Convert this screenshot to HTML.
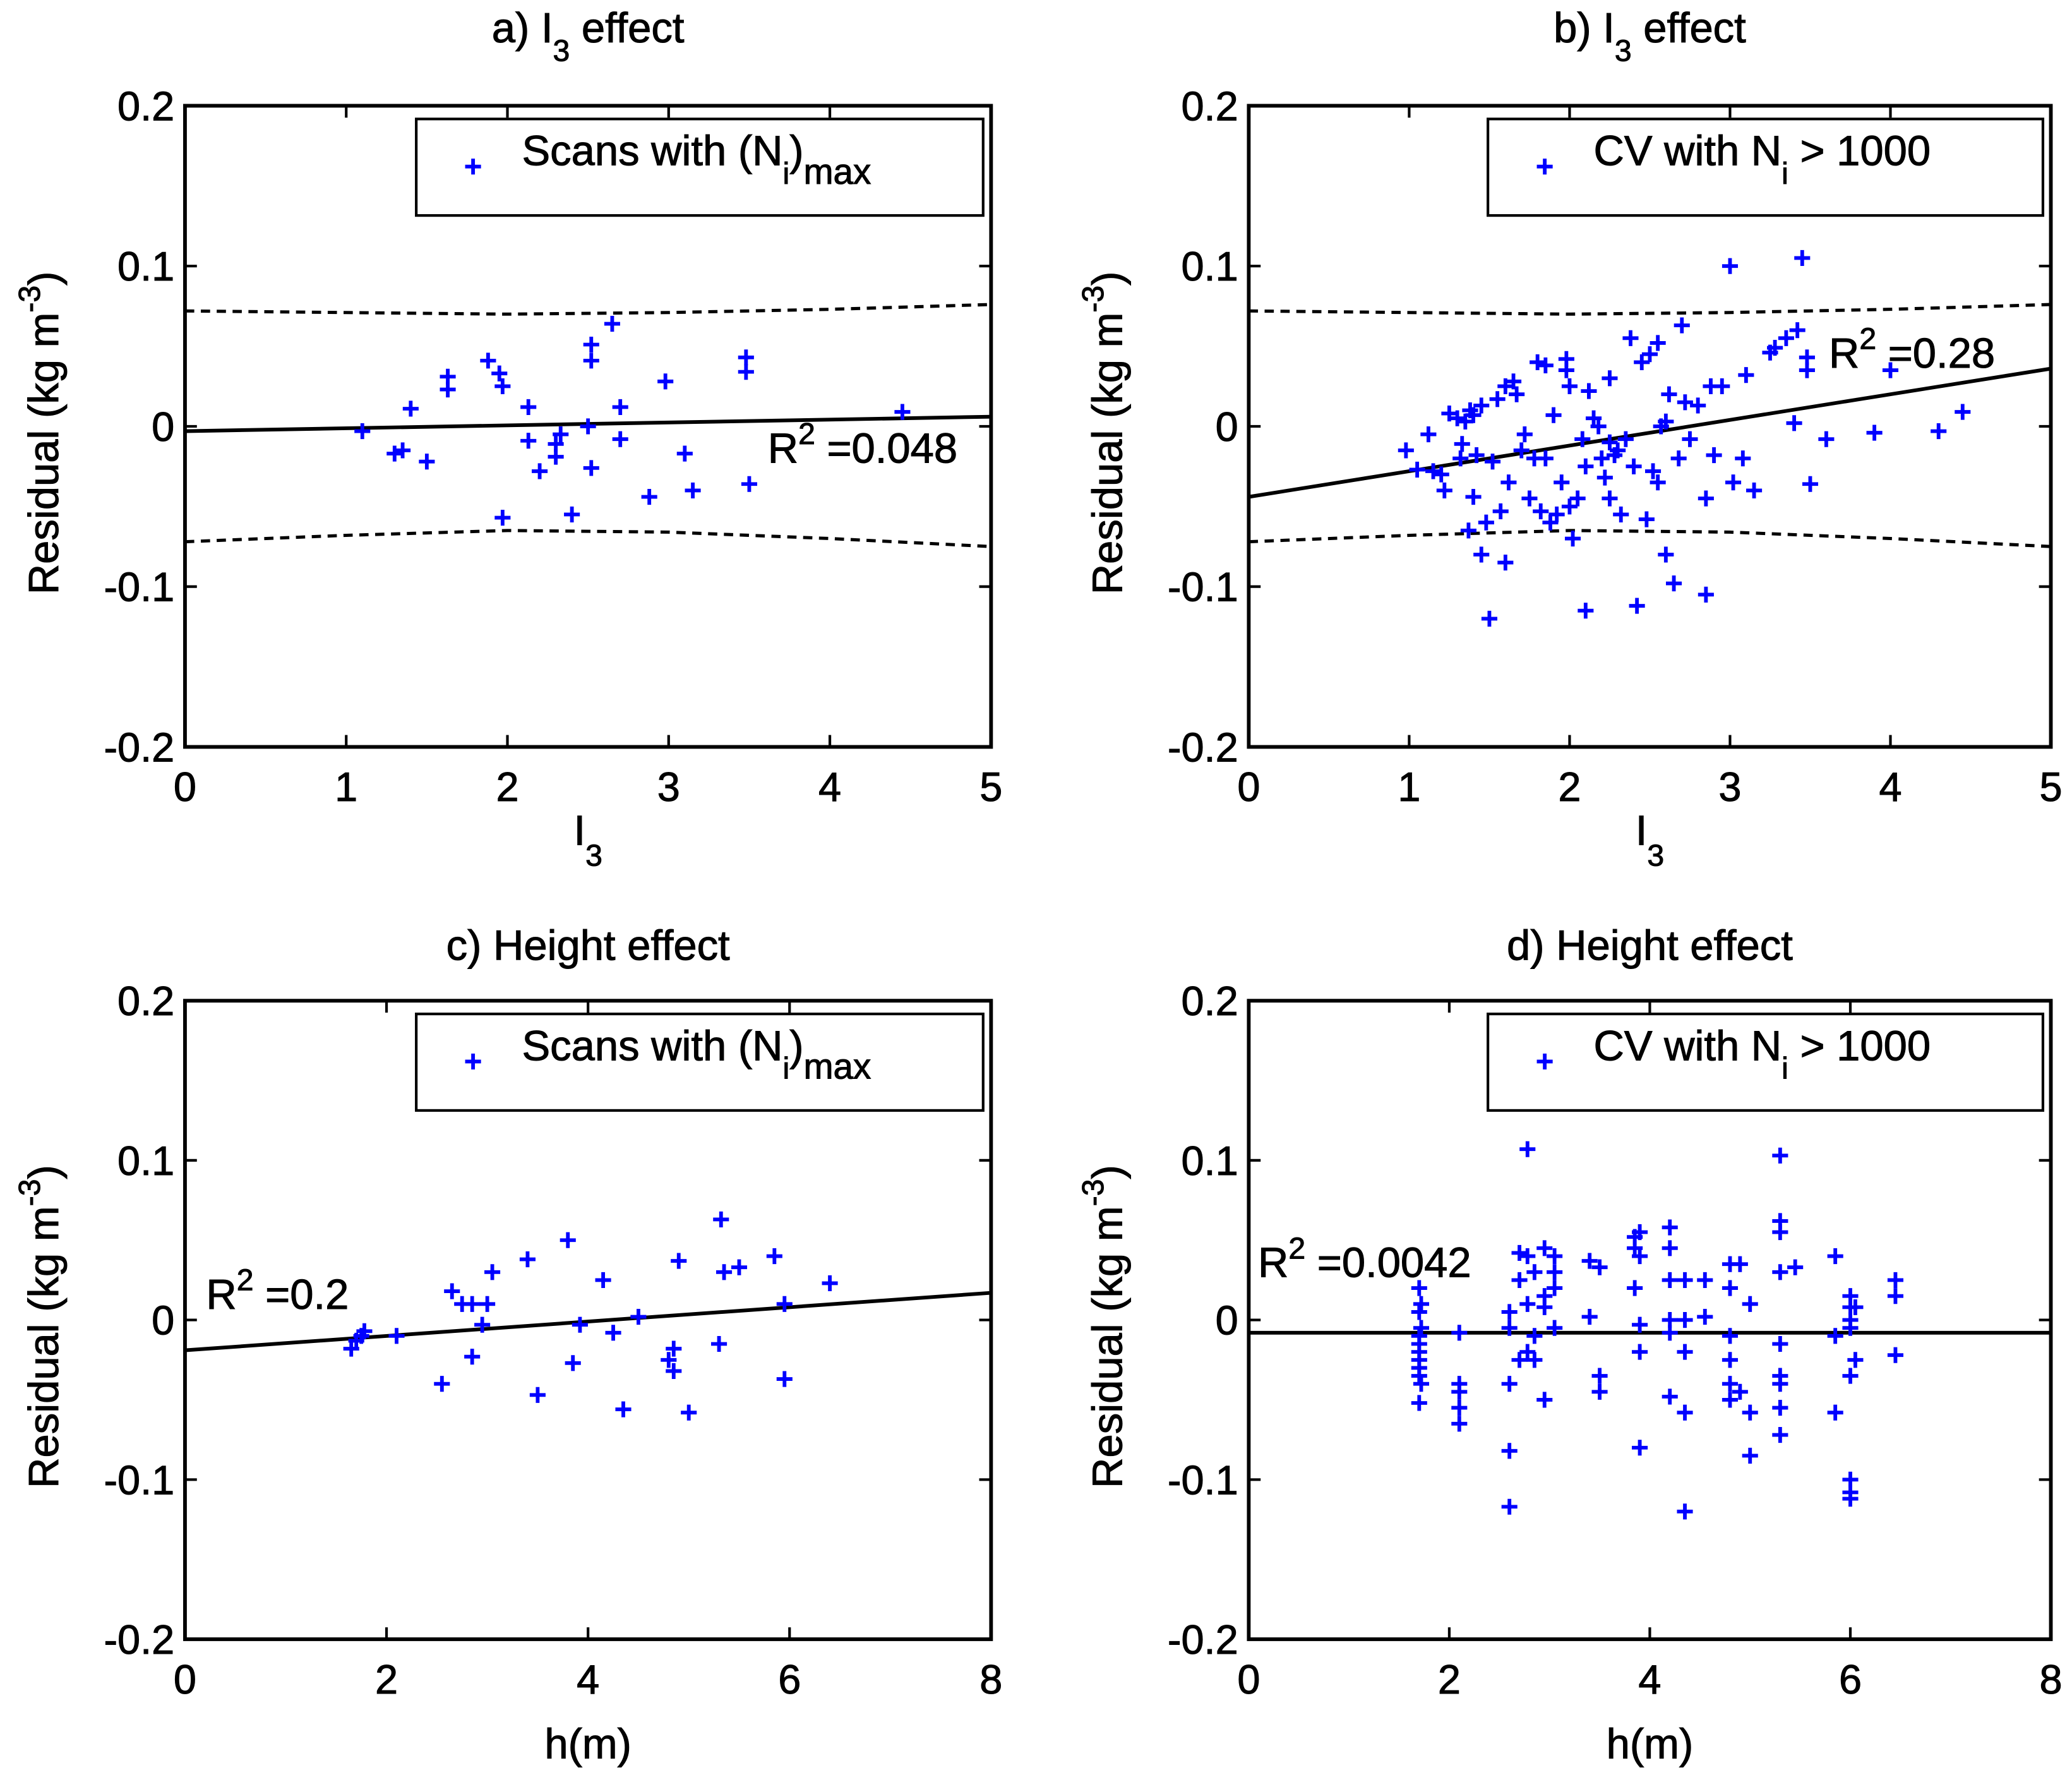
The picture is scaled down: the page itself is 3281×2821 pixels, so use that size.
<!DOCTYPE html>
<html><head><meta charset="utf-8"><style>
html,body{margin:0;padding:0;background:#fff}
svg{display:block}
text{font-family:"Liberation Sans",sans-serif;fill:#000;stroke:#000;stroke-width:0.5}
</style></head><body>
<svg id="fig" width="3281" height="2821" viewBox="0 0 1568 1348" preserveAspectRatio="none" xmlns="http://www.w3.org/2000/svg"></svg>
<script>
// ---- data ----
const yTicks=[-0.2,-0.1,0,0.1,0.2];
const yTickLabels=["-0.2","-0.1","0","0.1","0.2"];
const xTicksI3=[0,1,2,3,4,5];
const xTicksH=[0,2,4,6,8];
const bandX=[0,1,2,3,4,5];
const bandUpper=[0.072,0.071,0.070,0.071,0.073,0.076];
const bandLower=[-0.072,-0.068,-0.065,-0.066,-0.070,-0.075];
const aX=[1.1,1.3,1.35,1.4,1.5,1.63,1.63,1.88,1.95,1.97,1.97,2.13,2.13,2.2,2.3,2.3,2.33,2.4,2.5,2.52,2.52,2.52,2.65,2.7,2.7,2.88,2.98,3.1,3.15,3.48,3.48,3.5,4.45];
const aY=[-0.003,-0.017,-0.015,0.011,-0.022,0.023,0.031,0.041,0.033,0.025,-0.057,0.012,-0.009,-0.028,-0.011,-0.019,-0.005,-0.055,0.0,0.051,0.041,-0.026,0.064,0.012,-0.008,-0.044,0.028,-0.017,-0.04,0.043,0.034,-0.036,0.009];
const aFit=[-0.003,0.006];
const bX=[0.98,1.05,1.12,1.2,1.22,1.25,1.3,1.32,1.35,1.37,1.38,1.4,1.4,1.42,1.45,1.45,1.48,1.5,1.52,1.55,1.57,1.6,1.6,1.62,1.65,1.67,1.7,1.72,1.75,1.78,1.8,1.82,1.85,1.88,1.9,1.92,1.95,1.98,1.98,2.0,2.02,2.05,2.08,2.1,2.1,2.12,2.15,2.18,2.2,2.22,2.25,2.25,2.28,2.3,2.32,2.35,2.38,2.4,2.42,2.45,2.48,2.5,2.52,2.55,2.55,2.57,2.6,2.62,2.65,2.68,2.7,2.72,2.75,2.8,2.85,2.85,2.88,2.9,2.95,3.0,3.02,3.08,3.1,3.15,3.25,3.28,3.35,3.4,3.42,3.45,3.48,3.48,3.5,3.6,3.9,4.0,4.3,4.45,1.15,1.33,2.0,2.6,2.25,1.85];
const bY=[-0.015,-0.027,-0.005,-0.03,-0.04,0.008,0.005,-0.02,0.003,-0.065,0.01,-0.044,0.007,-0.018,0.013,-0.08,-0.06,-0.12,-0.022,0.017,-0.053,0.025,-0.085,-0.035,0.028,0.02,-0.015,-0.005,-0.045,-0.02,0.04,-0.053,0.038,-0.06,0.007,-0.055,-0.035,0.042,0.035,0.025,-0.07,-0.045,-0.008,-0.025,-0.115,0.022,0.005,0.0,-0.02,-0.032,0.03,-0.045,-0.018,-0.015,-0.055,-0.008,0.055,-0.025,-0.112,0.04,-0.058,0.045,-0.028,0.052,-0.035,0.0,-0.08,0.02,-0.098,-0.02,0.063,0.015,-0.008,0.013,-0.045,-0.105,0.025,-0.018,0.025,0.1,-0.035,-0.02,0.032,-0.04,0.046,0.049,0.055,0.002,0.06,0.105,0.043,0.035,-0.036,-0.008,-0.004,0.035,-0.003,0.009,-0.028,-0.011,-0.05,0.003,-0.01,-0.02];
const bFit=[-0.044,0.036];
const cX=[1.65,1.7,1.75,1.78,2.1,2.55,2.65,2.75,2.85,2.85,2.95,3.0,3.05,3.4,3.5,3.8,3.85,3.92,4.15,4.25,4.35,4.5,4.8,4.85,4.85,4.9,5.0,5.3,5.32,5.35,5.5,5.85,5.95,5.95,6.4];
const cY=[-0.018,-0.013,-0.01,-0.007,-0.01,-0.04,0.018,0.01,0.01,-0.023,-0.003,0.01,0.03,0.038,-0.047,0.05,-0.027,-0.003,0.025,-0.008,-0.056,0.002,-0.025,-0.018,-0.032,0.037,-0.058,-0.015,0.063,0.03,0.033,0.04,0.01,-0.037,0.023];
const cFit=[-0.019,0.017];
const dGroupX=[1.7,1.72,2.1,2.6,2.7,2.78,2.85,2.95,3.05,3.4,3.5,3.85,3.9,4.2,4.35,4.55,4.8,4.9,5.0,5.3,5.45,5.85,6.0,6.05,6.45];
const dGroupY=[[0.02,0.005,-0.01,-0.015,-0.02,-0.025,-0.03,-0.035,-0.052],[0.01,-0.005,-0.04],[-0.008,-0.04,-0.045,-0.055,-0.065],[0.005,-0.04,-0.082,-0.117,-0.005],[0.042,0.025,-0.025],[0.107,0.04,0.01,-0.02],[0.03,-0.025,-0.01],[0.045,0.015,0.008,-0.05],[0.04,0.03,0.02,-0.005],[0.002,0.037],[-0.035,-0.045,0.033],[0.052,0.045,0.02],[0.055,0.04,-0.003,-0.02,-0.08],[0.058,0.045,0.025,0.0,-0.008,-0.048],[0.025,-0.02,-0.058,-0.12,0.0],[0.025,0.002],[0.035,0.02,-0.01,-0.025,-0.04,-0.05],[0.035,-0.045],[0.01,-0.058,-0.085],[0.103,0.062,0.055,0.03,-0.015,-0.035,-0.04,-0.055,-0.072],[0.033],[0.04,-0.01,-0.058],[0.015,0.008,0.0,-0.005,-0.035,-0.1,-0.108,-0.112],[0.008,-0.025],[0.025,0.015,-0.022]];
const dFit=[-0.008,-0.008];

// ---- drawing ----
const NS="http://www.w3.org/2000/svg";
const svg=document.getElementById('fig');
function el(tag,attrs,parent,txt){const e=document.createElementNS(NS,tag);for(const k in attrs)e.setAttribute(k,attrs[k]);if(txt!==undefined)e.textContent=txt;(parent||svg).appendChild(e);return e;}

function panel(p){
  const g=el('g',{});
  
  
  const sx=v=>p.L+(v-p.x0)/(p.x1-p.x0)*(p.R-p.L);
  const sy=v=>p.B-(v+0.2)/0.4*(p.B-p.T);
  const t=el('text',{x:(p.L+p.R)/2,y:p.T-p.toff,'font-size':32,'text-anchor':'middle'},g);
  
  
  t.innerHTML=p.title;
  yTicks.forEach((v,i)=>{
    const y=sy(v);
    el('line',{x1:p.L,x2:p.L+9,y1:y,y2:y,stroke:'#000','stroke-width':2},g);
    el('line',{x1:p.R,x2:p.R-9,y1:y,y2:y,stroke:'#000','stroke-width':2},g);
    const l=el('text',{x:p.L-8,y:y+11,'font-size':31,'text-anchor':'end'},g,yTickLabels[i]);
    
    
  });
  p.xt.forEach(v=>{
    const x=sx(v);
    el('line',{x1:x,x2:x,y1:p.B,y2:p.B-9,stroke:'#000','stroke-width':2},g);
    el('line',{x1:x,x2:x,y1:p.T,y2:p.T+9,stroke:'#000','stroke-width':2},g);
    const l=el('text',{x:x,y:p.B+41,'font-size':31,'text-anchor':'middle'},g,String(v));
    
    
  });
  const yl=el('text',{x:0,y:0,'font-size':32,'text-anchor':'middle',transform:`translate(${p.L-96},${(p.T+p.B)/2+5}) rotate(-90)`},g);
  
  
  yl.innerHTML='Residual (kg m<tspan dy="-14" font-size="23">-3</tspan><tspan dy="14">)</tspan>';
  const xl=el('text',{x:(p.L+p.R)/2,y:p.B+p.xoff,'font-size':32,'text-anchor':'middle'},g);
  
  
  xl.innerHTML=p.xlabel;
  if(p.band){
    [bandUpper,bandLower].forEach(arr=>{
      const d=bandX.map((x,i)=>(i?'L':'M')+sx(x)+','+sy(arr[i])).join(' ');
      const pth=el('path',{d:d,fill:'none',stroke:'#000','stroke-width':2.4,'stroke-dasharray':'7,5'},g);
      
      
    });
  }
  const fl=el('line',{x1:sx(p.x0),y1:sy(p.fit[0]),x2:sx(p.x1),y2:sy(p.fit[1]),stroke:'#000','stroke-width':2.8},g);
  
  
  p.xs.forEach((x,i)=>{
    const X=sx(x),Y=sy(p.ys[i]);
    const m=el('path',{d:`M${X-6},${Y}H${X+6}M${X},${Y-6}V${Y+6}`,stroke:'#0000ff','stroke-width':2.8},g);
    
    
  });
  el('rect',{x:p.L,y:p.T,width:p.R-p.L,height:p.B-p.T,fill:'none',stroke:'#000','stroke-width':2.8},g);
  const r=el('text',{x:p.rx,y:p.ry,'font-size':32,'text-anchor':'start'},g);
  
  
  r.innerHTML='R<tspan dy="-14" font-size="23">2</tspan><tspan dy="14"> =</tspan>'+p.r2;
  const lg=el('g',{},g);
  
  
  const lx=p.L+p.lgx, ly=p.T+10;
  el('rect',{x:lx,y:ly,width:p.R-6-lx,height:73,fill:'#fff',stroke:'#000','stroke-width':2},lg);
  el('path',{d:`M${lx+37},${ly+36}H${lx+49}M${lx+43},${ly+30}V${ly+42}`,stroke:'#0000ff','stroke-width':2.8},lg);
  const lt=el('text',{x:lx+80,y:ly+35,'font-size':32},lg);
  lt.innerHTML=p.legend;
}
const A={L:140,R:750,T:80,B:565,toff:48,xoff:74};
const Bp={L:945,R:1552,T:80,B:565,toff:48,xoff:74};
const C={L:140,R:750,T:757,B:1240,toff:31,xoff:90};
const D={L:945,R:1552,T:757,B:1240,toff:31,xoff:90};
const i3lab='I<tspan dy="16" font-size="23">3</tspan>';
const scans='Scans with (N<tspan dy="14" font-size="23">i</tspan><tspan dy="-14">)</tspan><tspan dy="14" font-size="27">max</tspan>';
const cv='CV with N<tspan dy="14" font-size="23">i</tspan><tspan dy="-14"> &gt; 1000</tspan>';
const dX=[],dY=[];
dGroupX.forEach((x,i)=>dGroupY[i].forEach(y=>{dX.push(x);dY.push(y);}));
panel(Object.assign({name:'panel-a',title:'a) I<tspan dy="14" font-size="23">3</tspan><tspan dy="-14"> effect</tspan>',x0:0,x1:5,xt:xTicksI3,xlabel:i3lab,band:true,fit:aFit,xs:aX,ys:aY,rx:581,ry:350,r2:'0.048',legend:scans,lgx:175},A));
panel(Object.assign({name:'panel-b',title:'b) I<tspan dy="14" font-size="23">3</tspan><tspan dy="-14"> effect</tspan>',x0:0,x1:5,xt:xTicksI3,xlabel:i3lab,band:true,fit:bFit,xs:bX,ys:bY,rx:1384,ry:278,r2:'0.28',legend:cv,lgx:181},Bp));
panel(Object.assign({name:'panel-c',title:'c) Height effect',x0:0,x1:8,xt:xTicksH,xlabel:'h(m)',band:false,fit:cFit,xs:cX,ys:cY,rx:156,ry:990,r2:'0.2',legend:scans,lgx:175},C));
panel(Object.assign({name:'panel-d',title:'d) Height effect',x0:0,x1:8,xt:xTicksH,xlabel:'h(m)',band:false,fit:dFit,xs:dX,ys:dY,rx:952,ry:966,r2:'0.0042',legend:cv,lgx:181},D));
</script>
</body></html>
